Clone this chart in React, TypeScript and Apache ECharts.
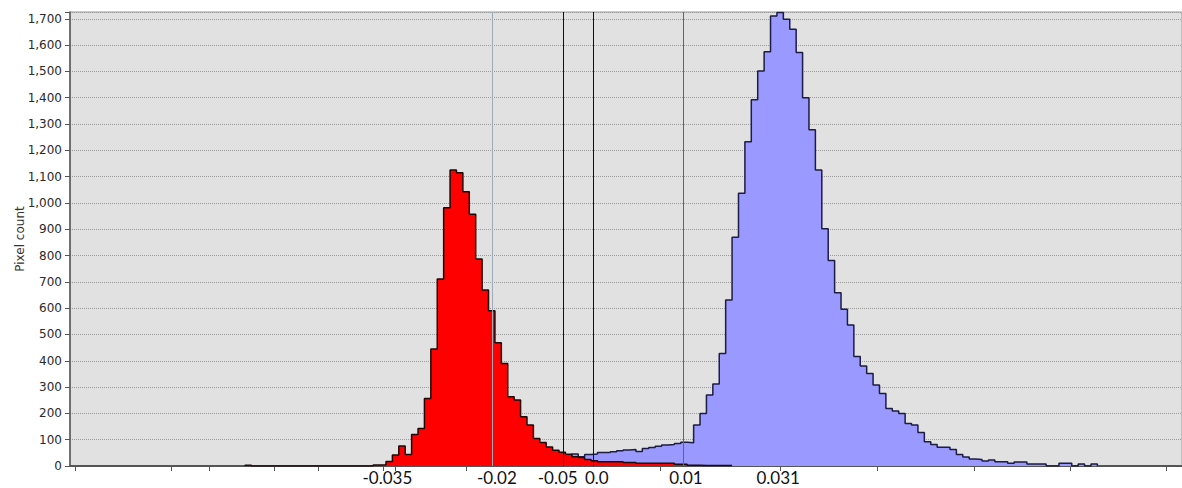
import React, { useEffect, useRef } from "react";
import * as echarts from "echarts";

// Histogram bins: bin k spans [k, k+1] on the x axis (bin units)
const redStart = -22;
const redCounts = [
  3, 0, 0, 0, 0, 0, 0, 0, 0, 0, 0, 0, 0, 0, 0, 0, 0, 0, 0, 0,
  4, 5, 17, 42, 76, 44, 120, 143, 257, 445, 711, 982, 1125, 1115, 1043, 957,
  787, 669, 590, 469, 390, 263, 251, 187, 156, 105, 89, 72, 60, 52, 45, 35,
  32, 25, 20, 16, 16, 16, 16, 13, 13, 10, 10, 10, 10, 10, 10, 7, 7, 3, 3,
  2, 2, 2, 2, 2,
];

const blueStart = 20;
const blueCounts = [
  5, 8, 10, 14, 18, 22, 28, 34, 40, 46, 35, 44, 46, 51, 51, 54, 58, 61, 63, 55,
  67, 70, 75, 80, 82, 86, 90, 88, 156, 200, 270, 312, 428, 631, 870, 1037,
  1233, 1392, 1502, 1575, 1711, 1724, 1698, 1660, 1572, 1400, 1278, 1125, 902,
  781, 659, 596, 536, 416, 380, 352, 308, 276, 219, 209, 200, 162, 156, 127,
  92, 82, 71, 71, 63, 44, 34, 27, 25, 19, 23, 16, 16, 10, 15, 15, 8, 8, 8, 0,
  0, 10, 10, 0, 8, 0, 8,
];

const xMin = -49.3;
const xMax = 124.2;
const yMax = 1726;

const xTickValues = [
  -48.52, -33.54, -27.61, -17.47, -10.61, -0.47, 1.4, 12.48, 42.75, 61.58,
  76.71, 91.78, 106.71, 121.68,
];
const xLabelValues = [0.23, 17.3, 26.8, 32.9, 46.8, 61.2];
const xLabelTexts = ["-0.035", "-0.02", "-0.05", "0.0", "0.01", "0.031"];

const refLineValues = [16.6, 27.66, 32.34, 46.44];
const refLineColors = ["#9eaab6", "#111111", "#111111", "#ee2a2a"];

function stepData(start: number, counts: number[]) {
  const pts: number[][] = [[start, 0]];
  counts.forEach((c, i) => pts.push([start + i, c]));
  pts.push([start + counts.length, 0]);
  return pts;
}

export default function App() {
  const ref = useRef<HTMLDivElement>(null);
  useEffect(() => {
    if (!ref.current) return;
    const chart = echarts.init(ref.current, undefined, { renderer: "svg" });
    const refSeries = refLineValues.map((v, i) => ({
      name: "ref" + i,
      type: "line",
      data: [],
      z: 4,
      color: refLineColors[i],
      markLine: {
        silent: true,
        symbol: "none",
        label: { show: false },
        lineStyle: { color: refLineColors[i], width: 1, type: "solid", opacity: 1 },
        data: [{ xAxis: v }],
      },
    }));
    chart.setOption({
      animation: false,
      backgroundColor: "#ffffff",
      grid: {
        left: 70,
        right: 0,
        top: 12,
        bottom: 22,
        show: true,
        backgroundColor: "#e1e1e1",
        borderColor: "#9a9a9a",
        borderWidth: 1,
      },
      xAxis: {
        type: "value",
        min: xMin,
        max: xMax,
        splitLine: { show: false },
        axisLine: { show: true, onZero: false, lineStyle: { color: "#555555", width: 2 } },
        axisTick: {
          show: true,
          customValues: xTickValues,
          length: 5,
          lineStyle: { color: "#555555", width: 1 },
        },
        axisLabel: {
          customValues: xLabelValues,
          margin: 3,
          hideOverlap: false,
          color: "#111111",
          fontFamily: "Lato",
          fontSize: 17,
          formatter: (v: number) => {
            const i = xLabelValues.findIndex((p) => Math.abs(p - v) < 1e-6);
            return i >= 0 ? xLabelTexts[i] : "";
          },
        },
      },
      yAxis: {
        type: "value",
        min: 0,
        max: yMax,
        interval: 100,
        name: "Pixel count",
        nameLocation: "middle",
        nameGap: 44,
        nameMoveOverlap: false,
        nameTextStyle: { fontFamily: "DejaVu Sans", fontSize: 12, color: "#333333" },
        axisLine: { show: true, onZero: false, lineStyle: { color: "#555555", width: 1.5 } },
        axisTick: { show: true, length: 5, lineStyle: { color: "#555555" } },
        axisLabel: {
          margin: 8,
          fontFamily: "DejaVu Sans",
          fontSize: 12,
          color: "#2a2a2a",
          formatter: (v: number) =>
            v % 100 === 0 ? v.toLocaleString("en-US") : "",
        },
        splitLine: {
          show: true,
          lineStyle: { color: "#9a9a9a", type: "dotted", width: 1 },
        },
      },
      series: [
        {
          name: "blue",
          type: "line",
          step: "end",
          symbol: "none",
          showSymbol: false,
          data: stepData(blueStart, blueCounts),
          lineStyle: { color: "#1c1c44", width: 1.5 },
          areaStyle: { color: "#9999ff", opacity: 1 },
          z: 2,
        },
        {
          name: "red",
          type: "line",
          step: "end",
          symbol: "none",
          showSymbol: false,
          data: stepData(redStart, redCounts),
          lineStyle: { color: "#1e0808", width: 1.5 },
          areaStyle: { color: "#ff0000", opacity: 1 },
          z: 3,
        },
        ...refSeries,
      ],
    });
    return () => chart.dispose();
  }, []);
  return (
    <div
      ref={ref}
      style={{ position: "absolute", left: 0, top: 0, width: 1182, height: 488 }}
    />
  );
}
